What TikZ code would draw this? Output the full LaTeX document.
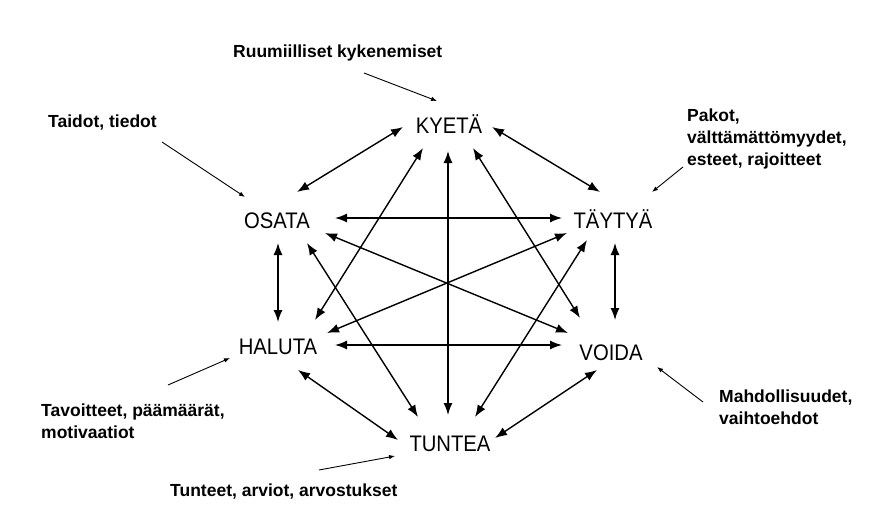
\documentclass[tikz,border=0pt]{standalone}
\usepackage{fontspec}
\setmainfont{Liberation Sans}
\newfontfamily\conceptfont[FakeStretch=0.9]{Liberation Sans}
\usetikzlibrary{arrows.meta}

\tikzset{
	concept/.style={font=\conceptfont\fontsize{22.5}{24}\selectfont, inner sep=0pt, text height=16pt, text depth=0pt},
	note/.style={font=\bfseries\fontsize{17.5}{22}\selectfont, align=left, inner sep=0pt, anchor=west},
	link/.style={{Latex[length=12pt,width=9pt]}-{Latex[length=12pt,width=9pt]}, line width=1.4pt},
	hint/.style={-{Latex[length=6pt,width=4.5pt]}, line width=0.9pt}
}

\begin{document}
\begin{tikzpicture}[x=1pt,y=-1pt]
	\useasboundingbox (0,0) rectangle (871,515);

	% the six verbs
	\node[concept] (kyeta) at (449,125) {KYETÄ};
	\node[concept] (osata) at (277,220) {OSATA};
	\node[concept] (taytya) at (613,220) {TÄYTYÄ};
	\node[concept] (haluta) at (278,346) {HALUTA};
	\node[concept] (voida) at (611,352) {VOIDA};
	\node[concept] (tuntea) at (450,443) {TUNTEA};

	% every verb is linked to every other one
	\foreach \a/\ax/\ay/\b/\bx/\by in {
		kyeta/-46/2/osata/20/-28, kyeta/43/2/taytya/-13/-28,
		osata/58/-2/taytya/-51/-2, kyeta/-1/26/tuntea/-2/-28,
		kyeta/-26/23/haluta/37/-26, kyeta/24/23/voida/-31/-34,
		osata/1/23/haluta/0/-24, osata/48/13/voida/-43/-19,
		osata/30/23/tuntea/-32/-26, taytya/-46/13/haluta/49/-13,
		taytya/-26/20/tuntea/25/-26, taytya/2/23/voida/4/-32,
		haluta/57/-1/voida/-49/-7, haluta/20/24/tuntea/-52/-3,
		voida/-14/18/tuntea/45/-5}
		\draw[link] ([shift={(\ax,\ay)}]\a.center) -- ([shift={(\bx,\by)}]\b.center);

	% explanations
	\node[note] (ruum) at (233,53) {Ruumiilliset kykenemiset};
	\node[note] (taidot) at (48,123) {Taidot, tiedot};
	\node[note] (pakot) at (687,139) {Pakot,\\välttämättömyydet,\\esteet, rajoitteet};
	\node[note] (tavoit) at (41,421) {Tavoitteet, päämäärät,\\motivaatiot};
	\node[note] (mahd) at (719,407) {Mahdollisuudet,\\vaihtoehdot};
	\node[note] (tunteet) at (170,492) {Tunteet, arviot, arvostukset};

	\draw[hint] ([shift={(131,20)}]ruum.west) -- ([shift={(-12,-24)}]kyeta.center);
	\draw[hint] ([shift={(114,19)}]taidot.west) -- ([shift={(-32,-23)}]osata.center);
	\draw[hint] ([shift={(-4,28)}]pakot.west) -- ([shift={(39,-28)}]taytya.center);
	\draw[hint] ([shift={(127,-36)}]tavoit.west) -- ([shift={(-48,12)}]haluta.center);
	\draw[hint] ([shift={(-16,-5)}]mahd.west) -- ([shift={(46,15)}]voida.center);
	\draw[hint] ([shift={(149,-22)}]tunteet.west) -- ([shift={(-55,13)}]tuntea.center);
\end{tikzpicture}
\end{document}
